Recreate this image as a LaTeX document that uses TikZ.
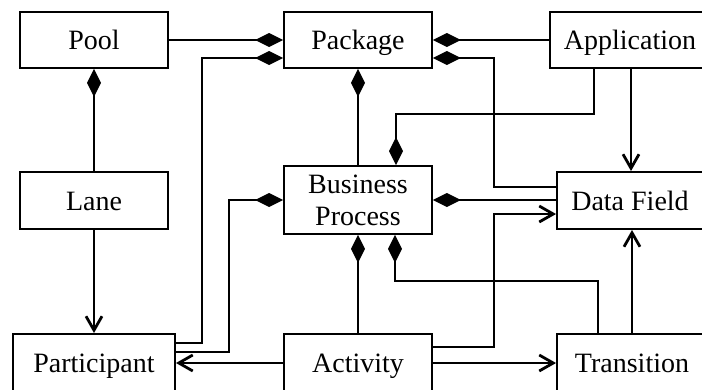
\documentclass[tikz,border=0pt]{standalone}
\usepackage{fontspec}
\setmainfont{Liberation Serif}
\usetikzlibrary{arrows.meta}
\begin{document}
\begin{tikzpicture}[x=1pt,y=-1pt,
  boxbase/.style={draw, line width=1.9pt, inner sep=0pt, font=\fontsize{28}{32}\selectfont},
  box/.style={boxbase, minimum height=56pt, text height=19pt, text depth=0pt},
  comp/.style={line width=1.6pt, {Diamond[length=28pt,width=14pt]}-},
  arr/.style={line width=2.8pt, -{Straight Barb[length=14pt,width=16pt]}}]
\useasboundingbox (0,0) rectangle (702,389);
% nodes
\node[box, minimum width=148pt] (Pool) at (94,40) {Pool};
\node[box, minimum width=148pt] (Package) at (358,40) {Package};
\node[box, minimum width=160pt] (Application) at (630,40) {Application};
\node[box, minimum width=148pt, minimum height=57pt] (Lane) at (94,200.5) {Lane};
\node[boxbase, minimum width=148pt, minimum height=68pt, align=center] (BP) at (358,200) {Business\\Process};
\node[box, minimum width=146pt, minimum height=57pt] (DataField) at (630,200.5) {Data Field};
\node[box, minimum width=162pt, minimum height=58pt] (Participant) at (94,363) {Participant};
\node[box, minimum width=148pt, minimum height=58pt] (Activity) at (358,363) {Activity};
\node[box, minimum width=150pt, minimum height=58pt] (Transition) at (632,363) {Transition};
% connectors
\draw[comp] (Package.west) -- (Pool.east);
\draw[comp] (Package.west |- 0,58) -| (202,343) -- (Participant.east |- 0,343);
\draw[comp] (Pool.south) -- (Lane.north);
\draw[arr] (Lane.south) -- (Participant.north);
\draw[comp] (BP.west) -| (229,352) -- (Participant.east |- 0,352);
\draw[arr] (Activity.west) -- (Participant.east);
\draw[comp] (Package.east) -- (Application.west);
\draw[comp] (Package.east |- 0,58) -| (494,187) -- (DataField.west |- 0,187);
\draw[comp] (Package.south) -- (BP.north);
\draw[comp] (BP.north -| 396,0) |- (594,114) -- (Application.south -| 594,0);
\draw[arr] (Application.south -| 631,0) -- (DataField.north -| 631,0);
\draw[comp] (BP.east) -- (DataField.west |- BP.east);
\draw[arr] (Activity.east |- 0,347) -| (494,214) -- (DataField.west |- 0,214);
\draw[arr] (Activity.east) -- (Transition.west);
\draw[comp] (BP.south -| 395,0) |- (598,281) -- (Transition.north -| 598,0);
\draw[comp] (BP.south) -- (Activity.north);
\draw[arr] (Transition.north -| 632,0) -- (DataField.south -| 632,0);
\end{tikzpicture}
\end{document}
